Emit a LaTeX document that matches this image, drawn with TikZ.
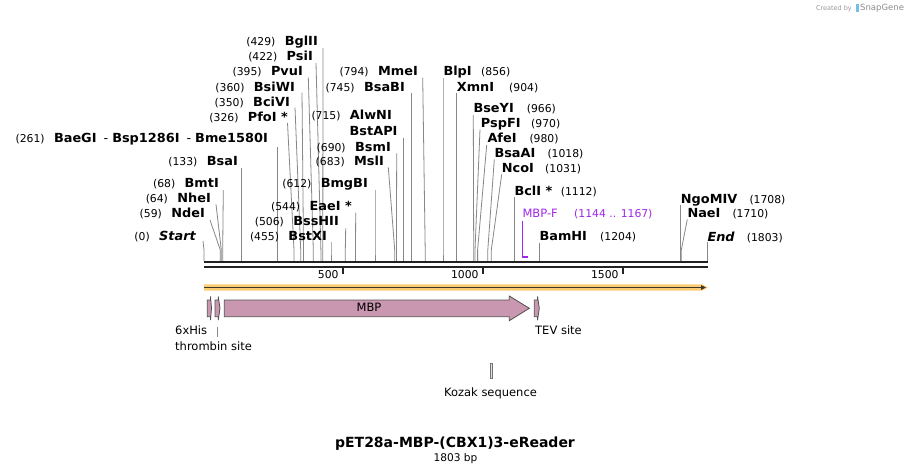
\documentclass[tikz,border=0pt]{standalone}
\usepackage{fontspec}
\setmainfont{DejaVu Sans}
\newfontfamily\enzfamily{DejaVu Sans}[FakeStretch=1.03]
\usetikzlibrary{arrows.meta}
\definecolor{leadc}{RGB}{135,135,135}
\definecolor{seqc}{RGB}{34,34,34}
\definecolor{mbpc}{RGB}{201,151,176}
\definecolor{fborder}{RGB}{80,80,80}
\definecolor{orfc}{RGB}{252,204,115}
\definecolor{orfdark}{RGB}{60,55,45}
\definecolor{primerc}{RGB}{160,40,235}
\definecolor{logoc}{RGB}{120,190,235}
\newcommand\lddraw[4]{%
  \coordinate (t#1) at (#2,#3);
  \coordinate (k#1) at (#4,250);
  \coordinate (s#1) at (#4,261);
  \draw[leadline] (t#1) -- (k#1) -- (s#1);}
\begin{document}
\begin{tikzpicture}[x=1pt,y=-1pt,
  num/.style={inner sep=0pt, font=\fontsize{10.8}{12}\selectfont},
  enz/.style={inner sep=0pt, font=\enzfamily\fontsize{12.5}{14}\selectfont\bfseries},
  flab/.style={inner sep=0pt, font=\fontsize{11.5}{13}\selectfont},
  leadline/.style={draw=leadc, line width=0.8pt},
  feat/.style={fill=mbpc, draw=fborder, line width=0.8pt, line join=miter},
  seqline/.style={draw=seqc, line width=2.2pt}]
\useasboundingbox (0,0) rectangle (912,474);
\fill[white] (0,0) rectangle (912,474);

% ---------- left column ----------
\node[enz,anchor=base east] (BglII) at (318,45) {BglII};
\node[num,anchor=base east] (nBglII) at ([xshift=-9pt]BglII.base west) {(429)};
\lddraw{BglII}{323}{48}{322.8}
\node[enz,anchor=base east] (PsiI) at (313,60) {PsiI};
\node[num,anchor=base east] (nPsiI) at ([xshift=-9pt]PsiI.base west) {(422)};
\lddraw{PsiI}{316}{63}{320.9}
\node[enz,anchor=base east] (PvuI) at (303,75.7) {PvuI};
\node[num,anchor=base east] (nPvuI) at ([xshift=-9pt]PvuI.base west) {(395)};
\lddraw{PvuI}{308.3}{77.5}{313.3}
\node[enz,anchor=base east] (BsiWI) at (295,91) {BsiWI};
\node[num,anchor=base east] (nBsiWI) at ([xshift=-9pt]BsiWI.base west) {(360)};
\lddraw{BsiWI}{302}{92.5}{303.5}
\node[enz,anchor=base east] (BciVI) at (290,106.3) {BciVI};
\node[num,anchor=base east] (nBciVI) at ([xshift=-9pt]BciVI.base west) {(350)};
\lddraw{BciVI}{295}{107.5}{300.7}
\node[enz,anchor=base east] (PfoI) at (288,121.3) {PfoI *};
\node[num,anchor=base east] (nPfoI) at ([xshift=-9pt]PfoI.base west) {(326)};
\lddraw{PfoI}{287.5}{123}{294}
\node[enz,anchor=base east] (BaeGI) at (268,142.3) {BaeGI\hspace{7pt}{\mdseries -}\hspace{4pt}Bsp1286I\hspace{7pt}{\mdseries -}\hspace{4pt}Bme1580I};
\node[num,anchor=base east] (nBaeGI) at ([xshift=-9pt]BaeGI.base west) {(261)};
\lddraw{BaeGI}{277.3}{147}{277.3}
\node[enz,anchor=base east] (BsaI) at (238,165.7) {BsaI};
\node[num,anchor=base east] (nBsaI) at ([xshift=-9pt]BsaI.base west) {(133)};
\lddraw{BsaI}{241.3}{168.3}{241.3}
\node[enz,anchor=base east] (BmtI) at (219,187.7) {BmtI};
\node[num,anchor=base east] (nBmtI) at ([xshift=-9pt]BmtI.base west) {(68)};
\lddraw{BmtI}{223.3}{190}{222.7}
\node[enz,anchor=base east] (NheI) at (211,202.7) {NheI};
\node[num,anchor=base east] (nNheI) at ([xshift=-9pt]NheI.base west) {(64)};
\lddraw{NheI}{216}{204.3}{221.3}
\node[enz,anchor=base east] (NdeI) at (205,217.7) {NdeI};
\node[num,anchor=base east] (nNdeI) at ([xshift=-9pt]NdeI.base west) {(59)};
\lddraw{NdeI}{210}{220}{220.3}
\node[enz,anchor=base east,font=\enzfamily\fontsize{12.5}{14}\selectfont\bfseries\itshape] (Start) at (196,240) {Start};
\node[num,anchor=base east] (nStart) at ([xshift=-9pt]Start.base west) {(0)};
\lddraw{Start}{203}{241}{204}

% ---------- middle column ----------
\node[enz,anchor=base east] (MmeI) at (418,75.7) {MmeI};
\node[num,anchor=base east] (nMmeI) at ([xshift=-9pt]MmeI.base west) {(794)};
\lddraw{MmeI}{422.7}{77.7}{425.2}
\node[enz,anchor=base east] (BsaBI) at (405,91) {BsaBI};
\node[num,anchor=base east] (nBsaBI) at ([xshift=-9pt]BsaBI.base west) {(745)};
\lddraw{BsaBI}{411.7}{93.3}{411.7}
\node[enz,anchor=base east] (AlwNI) at (392,119.3) {AlwNI};
\node[num,anchor=base east] (nAlwNI) at ([xshift=-9pt]AlwNI.base west) {(715)};
\node[enz,anchor=base east] (BstAPI) at (397.7,135.3) {BstAPI};
\lddraw{BstAPI}{403.3}{137.7}{403.3}
\node[enz,anchor=base east] (BsmI) at (391,151) {BsmI};
\node[num,anchor=base east] (nBsmI) at ([xshift=-9pt]BsmI.base west) {(690)};
\lddraw{BsmI}{396.7}{153.3}{396.4}
\node[enz,anchor=base east] (MslI) at (384,165.3) {MslI};
\node[num,anchor=base east] (nMslI) at ([xshift=-9pt]MslI.base west) {(683)};
\lddraw{MslI}{388.3}{167.3}{394.7}
\node[enz,anchor=base east] (BmgBI) at (368,187.3) {BmgBI};
\node[num,anchor=base east] (nBmgBI) at ([xshift=-9pt]BmgBI.base west) {(612)};
\lddraw{BmgBI}{375}{190}{375}
\node[enz,anchor=base east] (EaeI) at (352,210.7) {EaeI *};
\node[num,anchor=base east] (nEaeI) at ([xshift=-9pt]EaeI.base west) {(544)};
\lddraw{EaeI}{355.7}{212.7}{355.5}
\node[enz,anchor=base east] (BssHII) at (339,225.7) {BssHII};
\node[num,anchor=base east] (nBssHII) at ([xshift=-9pt]BssHII.base west) {(506)};
\lddraw{BssHII}{345.7}{228.3}{345.3}
\node[enz,anchor=base east] (BstXI) at (327,240.7) {BstXI};
\node[num,anchor=base east] (nBstXI) at ([xshift=-9pt]BstXI.base west) {(455)};
\lddraw{BstXI}{331}{242.3}{331}

% ---------- right column ----------
\node[enz,anchor=base west] (BlpI) at (443.3,75.7) {BlpI};
\node[num,anchor=base west] (nBlpI) at (481,75.7) {(856)};
\lddraw{BlpI}{443}{78}{443}
\node[enz,anchor=base west] (XmnI) at (456.7,91) {XmnI};
\node[num,anchor=base west] (nXmnI) at (509,91) {(904)};
\lddraw{XmnI}{456.7}{93}{456.7}
\node[enz,anchor=base west] (BseYI) at (473.3,112.7) {BseYI};
\node[num,anchor=base west] (nBseYI) at (526.7,112.7) {(966)};
\lddraw{BseYI}{473.3}{115}{473.7}
\node[enz,anchor=base west] (PspFI) at (480.7,127.7) {PspFI};
\node[num,anchor=base west] (nPspFI) at (531,127.7) {(970)};
\lddraw{PspFI}{480}{129.3}{475}
\node[enz,anchor=base west] (AfeI) at (487.3,142.7) {AfeI};
\node[num,anchor=base west] (nAfeI) at (529.3,142.7) {(980)};
\lddraw{AfeI}{486.7}{145}{477.6}
\node[enz,anchor=base west] (BsaAI) at (494.3,157.3) {BsaAI};
\node[num,anchor=base west] (nBsaAI) at (547.3,157.3) {(1018)};
\lddraw{BsaAI}{494.3}{159.3}{487.8}
\node[enz,anchor=base west] (NcoI) at (501.7,172.7) {NcoI};
\node[num,anchor=base west] (nNcoI) at (545,172.7) {(1031)};
\lddraw{NcoI}{501.7}{174.3}{491.3}
\node[enz,anchor=base west] (BclI) at (514.3,195.7) {BclI *};
\node[num,anchor=base west] (nBclI) at (560.7,195.7) {(1112)};
\lddraw{BclI}{514.3}{197.3}{514.3}
\node[flab,anchor=base west,text=primerc] (MBPF) at (522.3,217.7) {MBP-F};
\node[num,anchor=base west,text=primerc] (nMBPF) at (574,217.7) {(1144 .. 1167)};
\coordinate (pA) at (522.8,220.7);
\coordinate (pB) at (522.8,256.7);
\coordinate (pC) at (528,256.7);
\draw[primerc, line width=1.2pt] (pA) -- (pB);
\draw[primerc, line width=2pt] ([xshift=-0.6pt]pB) -- (pC);
\node[enz,anchor=base west] (BamHI) at (539.3,240.7) {BamHI};
\node[num,anchor=base west] (nBamHI) at (600,240.7) {(1204)};
\lddraw{BamHI}{539.3}{242.7}{539.3}
\node[enz,anchor=base west] (NgoMIV) at (680.7,203.3) {NgoMIV};
\node[num,anchor=base west] (nNgoMIV) at (749.3,203.3) {(1708)};
\lddraw{NgoMIV}{680.7}{205}{680.7}
\node[enz,anchor=base west] (NaeI) at (687.3,217.7) {NaeI};
\node[num,anchor=base west] (nNaeI) at (732.3,217.7) {(1710)};
\lddraw{NaeI}{687.3}{219.3}{681.3}
\node[enz,anchor=base west,font=\enzfamily\fontsize{12.5}{14}\selectfont\bfseries\itshape] (End) at (707.3,241) {End};
\node[num,anchor=base west] (nEnd) at (746.7,241) {(1803)};
\lddraw{End}{707.3}{242.3}{707.3}

% ---------- sequence ----------
\coordinate (seqL) at (204,262);
\coordinate (seqR) at (707.8,262);
\coordinate (seqL2) at (204,266.6);
\coordinate (seqR2) at (707.8,266.6);
\draw[seqline] (seqL) -- (seqR);
\draw[seqline] (seqL2) -- (seqR2);
\foreach \x/\t in {342.7/500, 482.7/1000, 622.7/1500}{
  \draw[seqc, line width=2pt] (\x,266.6) -- (\x,273.5);
  \node[num,anchor=base east] at (\x-4,278.2) {\t};
}

% ---------- ORF bar ----------
\fill[orfc] (204,284.3) -- (702,284.3) -- (707.8,287.5) -- (702,290.7) -- (204,290.7) -- cycle;
\draw[orfdark, line width=1.4pt, -{Triangle[length=5pt,width=4.5pt]}] (204,287.5) -- (706,287.5);

% ---------- features ----------
\path[feat] (224.3,300) -- (509.3,300) -- (509.3,296) -- (529.3,308.3) -- (509.3,320.7) -- (509.3,316.7) -- (224.3,316.7) -- cycle;
\node[flab] (MBP) at (369,307.5) {MBP};
% 6xHis
\path[feat] (207.3,300) -- (210.5,300) -- (210.5,296.5) -- (211.5,308.3) -- (210.5,320.2) -- (210.5,316.7) -- (207.3,316.7) -- cycle;
% thrombin site
\path[feat] (215,300) -- (218.2,300) -- (218.2,296.5) -- (220,308.3) -- (218.2,320.2) -- (218.2,316.7) -- (215,316.7) -- cycle;
% TEV site
\path[feat] (534.3,300) -- (537.5,300) -- (537.5,296.5) -- (539.3,308.3) -- (537.5,320.2) -- (537.5,316.7) -- (534.3,316.7) -- cycle;
\node[flab,anchor=base west] (His) at (175,334) {6xHis};
\node[flab,anchor=base west] (Thr) at (175,350) {thrombin site};
\coordinate (thrT) at (217.3,327);
\coordinate (thrB) at (217.3,337);
\draw[leadline] (thrT) -- (thrB);
\node[flab,anchor=base west] (TEV) at (535,334) {TEV site};
% Kozak
\path[fill=black!12, draw=black!55, line width=0.8pt] (490.3,363.8) rectangle (492.8,378);
\node[flab,anchor=base] (Kozak) at (490.5,396.5) {Kozak sequence};

% ---------- titles ----------
\node[inner sep=0pt,anchor=base,font=\fontsize{14}{16}\selectfont\bfseries] (title) at (455,447.3) {pET28a-MBP-(CBX1)3-eReader};
\node[inner sep=0pt,anchor=base,font=\fontsize{10.6}{12}\selectfont] (bp) at (455.5,461.7) {1803 bp};

% ---------- credit ----------
\node[inner sep=0pt,anchor=base east,text=black!40,font=\fontsize{6.5}{7}\selectfont] (cre) at (852,10.5) {Created by};
\fill[logoc] (855.5,3.5) rectangle (858.5,11.5);
\node[inner sep=0pt,anchor=base west,text=black!45,font=\fontsize{8.5}{9}\selectfont] (sg) at (860,10.5) {SnapGene};
\end{tikzpicture}
\end{document}
